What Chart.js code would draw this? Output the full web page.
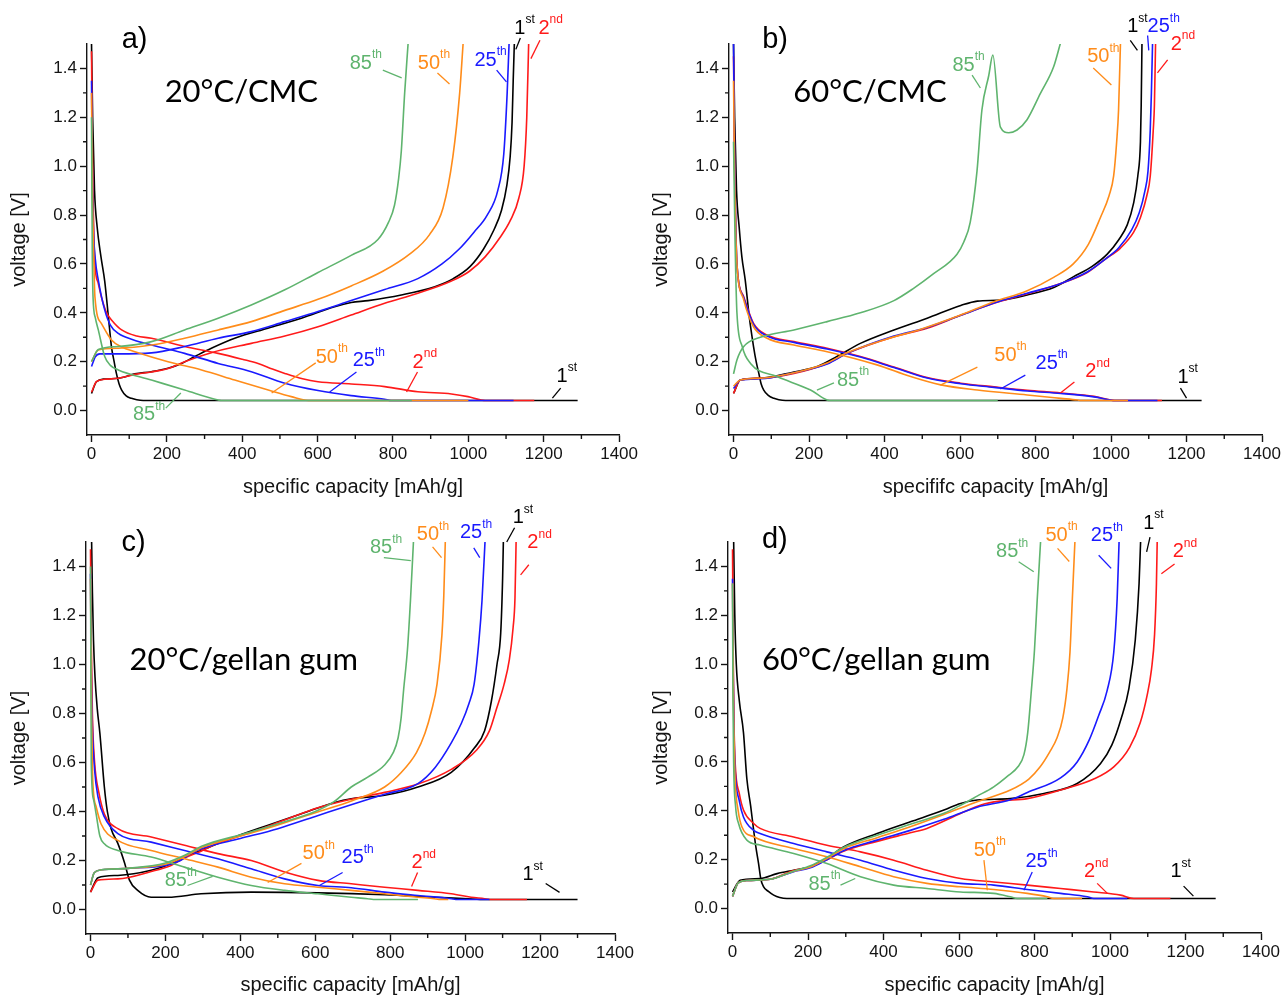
<!DOCTYPE html>
<html>
<head>
<meta charset="utf-8">
<script src="https://cdn.jsdelivr.net/npm/chart.js@4.4.1/dist/chart.umd.min.js"></script>
<style>
  body { margin: 0; background: #fff; width: 1284px; height: 998px; position: relative; overflow: hidden; }
  canvas { position: absolute; }
</style>
</head>
<body>
<canvas id="pa" width="640" height="500" style="left:0;top:0"></canvas>
<canvas id="pb" width="642" height="500" style="left:642px;top:0"></canvas>
<canvas id="pc" width="640" height="498" style="left:0;top:500px"></canvas>
<canvas id="pd" width="642" height="498" style="left:642px;top:500px"></canvas>
<script>
// cycles and their colours
const cycles = ["1st", "2nd", "25th", "50th", "85th"];
const cycleColors = ["#000000", "#ff1a1a", "#1a1aff", "#ff8c1a", "#5fb46e"];

const capacityTicks = [0, 200, 400, 600, 800, 1000, 1200, 1400];
const capacityMinor = [100, 300, 500, 700, 900, 1100, 1300];
const voltageTicks = [0, 0.2, 0.4, 0.6, 0.8, 1.0, 1.2, 1.4];
const voltageMinor = [0.1, 0.3, 0.5, 0.7, 0.9, 1.1, 1.3];

// a) 20°C/CMC  -- [capacity mAh/g, voltage V]
const aDis1st = [[0,1.5],[3,1.2],[8,0.9],[15,0.75],[25,0.63],[35,0.53],[45,0.38],[53,0.26],[60,0.2],[66,0.152],[73,0.11],[80,0.084],[92,0.06],[106,0.05],[120,0.044],[137,0.041],[1290,0.041]];
const aChg1st = [[0,0.07],[13,0.118],[35,0.129],[71,0.132],[115,0.15],[159,0.159],[203,0.173],[239,0.193],[274,0.221],[318,0.255],[380,0.296],[468,0.337],[557,0.378],[645,0.425],[689,0.442],[734,0.45],[822,0.473],[911,0.507],[960,0.54],[1005,0.59],[1040,0.66],[1068,0.74],[1088,0.82],[1102,0.92],[1111,1.04],[1116,1.18],[1119,1.35],[1122,1.5]];
const aDis2nd = [[0,1.47],[2,1.1],[5,0.8],[9,0.6],[18,0.52],[26,0.466],[40,0.4],[53,0.371],[80,0.33],[120,0.305],[159,0.296],[247,0.262],[336,0.234],[400,0.21],[442,0.193],[480,0.17],[513,0.152],[560,0.13],[601,0.118],[689,0.109],[778,0.098],[866,0.077],[955,0.068],[999,0.057],[1034,0.043],[1045,0.041],[1175,0.041]];
const aChg2nd = [[0,0.075],[13,0.118],[35,0.128],[71,0.132],[115,0.148],[159,0.158],[203,0.172],[247,0.2],[318,0.237],[424,0.275],[513,0.305],[601,0.343],[689,0.391],[778,0.439],[866,0.48],[955,0.53],[1003,0.57],[1045,0.63],[1085,0.71],[1112,0.78],[1134,0.87],[1148,1.0],[1155,1.2],[1160,1.5]];
const aDis25 = [[0,1.35],[2,1.0],[5,0.75],[10,0.62],[18,0.534],[35,0.412],[50,0.35],[71,0.316],[110,0.29],[159,0.268],[247,0.234],[336,0.193],[424,0.159],[513,0.112],[601,0.082],[689,0.061],[778,0.046],[795,0.041],[1120,0.041]];
const aChg25 = [[0,0.18],[10,0.22],[22,0.232],[71,0.232],[159,0.236],[247,0.262],[336,0.296],[424,0.323],[513,0.364],[601,0.405],[689,0.45],[778,0.495],[866,0.54],[930,0.6],[975,0.66],[1015,0.73],[1050,0.8],[1078,0.9],[1094,1.05],[1103,1.3],[1108,1.5]];
const aDis50 = [[0,1.3],[2,0.95],[5,0.7],[9,0.466],[26,0.357],[53,0.289],[80,0.26],[115,0.241],[203,0.2],[292,0.166],[380,0.125],[469,0.084],[530,0.057],[575,0.041],[1000,0.041]];
const aChg50 = [[0,0.2],[18,0.248],[71,0.255],[159,0.268],[247,0.296],[336,0.33],[424,0.364],[513,0.41],[601,0.455],[689,0.51],[773,0.57],[844,0.64],[897,0.72],[933,0.83],[959,1.04],[977,1.3],[986,1.5]];
const aDis85 = [[0,1.2],[1,0.9],[2,0.65],[4,0.466],[10,0.38],[18,0.33],[35,0.221],[50,0.185],[71,0.166],[159,0.125],[247,0.084],[336,0.043],[345,0.041],[850,0.041]];
const aChg85 = [[0,0.2],[18,0.25],[71,0.262],[159,0.282],[247,0.33],[336,0.378],[424,0.432],[513,0.494],[601,0.565],[689,0.635],[760,0.7],[788,0.77],[804,0.84],[815,0.95],[822,1.06],[831,1.3],[840,1.5]];

// b) 60°C/CMC
const bDis1st = [[0,1.5],[3,1.2],[8,0.9],[15,0.75],[22,0.63],[31,0.534],[42,0.38],[53,0.262],[60,0.2],[67,0.152],[73,0.11],[80,0.084],[92,0.062],[107,0.05],[120,0.044],[138,0.041],[1240,0.041]];
const bChg1st = [[0,0.07],[18,0.125],[71,0.132],[160,0.158],[222,0.18],[274,0.221],[336,0.275],[425,0.33],[513,0.378],[602,0.43],[646,0.448],[708,0.452],[778,0.473],[850,0.505],[901,0.548],[950,0.59],[990,0.64],[1021,0.7],[1043,0.76],[1060,0.85],[1071,0.96],[1078,1.1],[1080,1.25],[1082,1.5]];
const bDis2nd = [[0,1.45],[3,1.0],[6,0.75],[9,0.6],[27,0.466],[53,0.357],[89,0.309],[160,0.282],[248,0.255],[336,0.221],[425,0.178],[513,0.135],[602,0.112],[690,0.097],[778,0.083],[867,0.072],[955,0.058],[999,0.043],[1010,0.041],[1135,0.041]];
const bChg2nd = [[0,0.07],[18,0.125],[71,0.132],[160,0.152],[248,0.193],[301,0.234],[425,0.302],[513,0.337],[602,0.39],[690,0.439],[778,0.478],[867,0.52],[937,0.565],[985,0.62],[1025,0.665],[1060,0.73],[1078,0.79],[1095,0.88],[1104,0.96],[1112,1.15],[1115,1.25],[1118,1.5]];
const bDis25 = [[0,1.5],[3,1.0],[6,0.75],[9,0.6],[27,0.462],[53,0.353],[89,0.305],[160,0.279],[248,0.252],[336,0.219],[425,0.176],[513,0.133],[602,0.11],[690,0.095],[778,0.08],[867,0.07],[955,0.056],[999,0.043],[1010,0.041],[1123,0.041]];
const bChg25 = [[0,0.09],[18,0.125],[71,0.13],[160,0.155],[248,0.19],[301,0.234],[425,0.305],[513,0.34],[602,0.39],[690,0.44],[778,0.48],[867,0.52],[937,0.567],[985,0.62],[1020,0.665],[1055,0.74],[1075,0.81],[1090,0.9],[1098,0.98],[1104,1.15],[1107,1.3],[1110,1.5]];
const bDis50 = [[0,1.35],[3,0.95],[6,0.72],[9,0.6],[27,0.453],[53,0.343],[89,0.296],[160,0.268],[248,0.241],[380,0.187],[469,0.139],[549,0.105],[646,0.084],[778,0.064],[867,0.05],[911,0.043],[920,0.041],[1045,0.041]];
const bChg50 = [[0,0.1],[18,0.125],[71,0.132],[160,0.155],[248,0.195],[301,0.237],[400,0.29],[500,0.335],[600,0.39],[690,0.445],[778,0.49],[848,0.545],[900,0.6],[940,0.68],[972,0.79],[995,0.88],[1007,0.96],[1015,1.1],[1020,1.23],[1025,1.5]];
const bDis85 = [[0,1.1],[2,0.9],[4,0.7],[6,0.55],[9,0.4],[23,0.262],[45,0.193],[115,0.139],[204,0.084],[248,0.043],[255,0.041],[700,0.041]];
const bChg85 = [[0,0.15],[9,0.207],[27,0.262],[71,0.3],[160,0.33],[248,0.364],[336,0.4],[425,0.45],[477,0.5],[530,0.56],[592,0.64],[610,0.69],[627,0.77],[645,0.98],[658,1.23],[676,1.37],[687,1.455],[707,1.16],[729,1.137],[751,1.148],[777,1.189],[813,1.298],[848,1.407],[866,1.503]];

// c) 20°C/gellan gum
const cDis1st = [[3,1.5],[5,1.3],[8,1.1],[12,0.95],[18,0.82],[25,0.72],[37,0.5],[45,0.4],[55,0.33],[73,0.27],[91,0.19],[104,0.12],[126,0.078],[162,0.05],[207,0.05],[295,0.064],[429,0.071],[607,0.068],[785,0.06],[918,0.05],[1008,0.044],[1040,0.041],[1300,0.041]];
const cChg1st = [[0,0.071],[20,0.13],[73,0.139],[162,0.16],[215,0.187],[251,0.214],[295,0.241],[385,0.296],[474,0.344],[563,0.391],[652,0.437],[696,0.452],[785,0.466],[874,0.5],[963,0.56],[1025,0.66],[1052,0.73],[1070,0.85],[1085,1.0],[1095,1.13],[1100,1.35],[1102,1.5]];
const cDis2nd = [[0,1.47],[2,1.1],[5,0.8],[11,0.6],[22,0.48],[37,0.39],[73,0.33],[162,0.296],[251,0.262],[340,0.228],[429,0.2],[518,0.153],[607,0.119],[696,0.105],[785,0.091],[874,0.078],[963,0.064],[1016,0.05],[1052,0.044],[1065,0.041],[1165,0.041]];
const cChg2nd = [[0,0.071],[20,0.12],[73,0.125],[162,0.155],[215,0.18],[251,0.21],[295,0.238],[340,0.27],[429,0.315],[518,0.365],[607,0.415],[696,0.45],[785,0.478],[874,0.512],[963,0.572],[1030,0.65],[1065,0.73],[1084,0.82],[1104,0.92],[1118,1.02],[1128,1.15],[1133,1.27],[1136,1.5]];
const cDis25 = [[0,1.37],[2,1.0],[5,0.75],[11,0.57],[20,0.46],[37,0.378],[73,0.31],[162,0.275],[251,0.241],[340,0.207],[429,0.166],[518,0.125],[607,0.098],[696,0.089],[785,0.071],[874,0.057],[963,0.044],[975,0.041],[1065,0.041]];
const cChg25 = [[0,0.1],[10,0.15],[30,0.162],[100,0.168],[200,0.18],[240,0.2],[270,0.23],[300,0.25],[400,0.29],[500,0.33],[600,0.38],[700,0.43],[785,0.47],[874,0.514],[920,0.58],[963,0.68],[990,0.76],[1010,0.84],[1024,0.92],[1037,1.1],[1045,1.26],[1053,1.5]];
const cDis50 = [[0,1.35],[2,0.95],[4,0.7],[6,0.528],[15,0.42],[28,0.35],[73,0.282],[162,0.241],[251,0.207],[340,0.173],[429,0.132],[518,0.105],[607,0.091],[696,0.078],[785,0.064],[874,0.05],[918,0.044],[930,0.041],[955,0.041]];
const cChg50 = [[0,0.1],[10,0.15],[30,0.162],[100,0.168],[200,0.185],[250,0.215],[300,0.255],[400,0.3],[500,0.345],[600,0.395],[700,0.445],[785,0.5],[830,0.56],[870,0.64],[893,0.72],[910,0.81],[925,0.92],[938,1.12],[943,1.28],[947,1.5]];
const cDis85 = [[0,1.4],[1,1.0],[2,0.6],[8,0.45],[15,0.39],[25,0.3],[37,0.268],[73,0.241],[162,0.214],[251,0.173],[340,0.132],[429,0.098],[518,0.078],[607,0.064],[696,0.05],[740,0.044],[755,0.041],[874,0.041]];
const cChg85 = [[0,0.1],[10,0.15],[30,0.162],[100,0.168],[200,0.19],[250,0.22],[300,0.26],[400,0.305],[500,0.35],[600,0.4],[650,0.44],[696,0.5],[740,0.54],[785,0.59],[808,0.64],[821,0.7],[829,0.78],[836,0.9],[846,1.06],[854,1.26],[862,1.5]];

// d) 60°C/gellan gum
const dDis1st = [[3,1.5],[6,1.2],[10,1.0],[18,0.85],[29,0.72],[38,0.53],[48,0.42],[56,0.32],[62,0.25],[69,0.184],[75,0.12],[82,0.09],[95,0.07],[109,0.055],[125,0.045],[144,0.041],[1280,0.041]];
const dChg1st = [[0,0.068],[20,0.116],[73,0.123],[118,0.143],[162,0.157],[206,0.171],[250,0.205],[294,0.252],[383,0.307],[471,0.355],[560,0.403],[604,0.43],[648,0.444],[736,0.45],[825,0.471],[913,0.512],[975,0.594],[1005,0.67],[1030,0.78],[1050,0.9],[1067,1.1],[1077,1.33],[1081,1.5]];
const dDis2nd = [[0,1.47],[2,1.0],[4,0.75],[7,0.594],[18,0.47],[29,0.403],[56,0.348],[73,0.328],[162,0.293],[250,0.259],[339,0.232],[427,0.198],[515,0.157],[604,0.123],[692,0.109],[781,0.096],[869,0.082],[957,0.068],[1028,0.055],[1063,0.041],[1160,0.041]];
const dChg2nd = [[0,0.05],[15,0.105],[40,0.115],[100,0.12],[160,0.155],[206,0.17],[250,0.2],[294,0.235],[383,0.275],[471,0.31],[515,0.328],[604,0.389],[660,0.425],[710,0.44],[781,0.45],[869,0.485],[957,0.53],[1010,0.58],[1052,0.66],[1080,0.76],[1098,0.87],[1110,0.98],[1118,1.12],[1123,1.33],[1125,1.5]];
const dDis25 = [[0,1.35],[2,0.95],[4,0.72],[7,0.566],[18,0.44],[29,0.375],[56,0.32],[73,0.307],[162,0.266],[250,0.232],[339,0.198],[427,0.157],[515,0.123],[604,0.103],[692,0.096],[781,0.078],[869,0.062],[940,0.048],[957,0.041],[1046,0.041]];
const dChg25 = [[0,0.05],[15,0.105],[40,0.115],[100,0.12],[160,0.15],[206,0.167],[250,0.2],[294,0.237],[383,0.28],[471,0.32],[560,0.365],[648,0.415],[736,0.445],[781,0.475],[869,0.535],[913,0.6],[945,0.69],[970,0.79],[992,0.89],[1010,1.05],[1019,1.27],[1024,1.5]];
const dDis50 = [[0,1.33],[2,0.9],[4,0.7],[7,0.525],[15,0.4],[25,0.334],[56,0.294],[162,0.246],[250,0.212],[339,0.171],[427,0.13],[515,0.103],[604,0.089],[692,0.078],[781,0.062],[834,0.048],[851,0.041],[926,0.041]];
const dChg50 = [[0,0.05],[15,0.105],[40,0.115],[100,0.12],[160,0.152],[206,0.17],[250,0.205],[294,0.245],[383,0.29],[471,0.335],[560,0.385],[648,0.437],[736,0.485],[785,0.53],[815,0.58],[840,0.64],[860,0.7],[875,0.78],[886,0.9],[894,1.05],[900,1.26],[907,1.5]];
const dDis85 = [[0,1.33],[1,0.9],[3,0.594],[8,0.42],[16,0.348],[38,0.28],[73,0.26],[162,0.225],[250,0.184],[339,0.13],[427,0.096],[515,0.082],[604,0.068],[692,0.062],[736,0.048],[754,0.041],[834,0.041]];
const dChg85 = [[0,0.05],[15,0.105],[40,0.115],[100,0.12],[160,0.152],[206,0.175],[250,0.21],[294,0.25],[383,0.3],[471,0.345],[560,0.39],[604,0.423],[648,0.46],[692,0.498],[731,0.545],[756,0.58],[772,0.63],[782,0.72],[791,0.88],[800,1.06],[807,1.26],[816,1.5]];

// cycle labels: c = index into cycles, at = text position, line = leader line (data units)
const aLabels = [
  { c: 4, at: [685, 1.422], line: [773, 1.393, 823, 1.361] },
  { c: 3, at: [866, 1.422], line: [918, 1.381, 950, 1.336] },
  { c: 2, at: [1016, 1.434], line: [1075, 1.393, 1101, 1.345] },
  { c: 0, at: [1122, 1.565], line: [1138, 1.525, 1126, 1.478] },
  { c: 1, at: [1186, 1.565], line: [1190, 1.515, 1166, 1.44] },
  { c: 3, at: [595, 0.219], line: [595, 0.195, 478, 0.072] },
  { c: 2, at: [693, 0.206], line: [703, 0.158, 632, 0.076] },
  { c: 1, at: [852, 0.198], line: [865, 0.158, 836, 0.076] },
  { c: 0, at: [1234, 0.141], line: [1245, 0.092, 1223, 0.051] },
  { c: 4, at: [110, -0.018], line: [197, 0.01, 237, 0.072] }
];
const bLabels = [
  { c: 4, at: [580, 1.414], line: [632, 1.373, 654, 1.32] },
  { c: 3, at: [937, 1.449], line: [953, 1.402, 1001, 1.332] },
  { c: 0, at: [1043, 1.57], line: [1051, 1.515, 1070, 1.474] },
  { c: 2, at: [1097, 1.57], line: [1097, 1.535, 1100, 1.474] },
  { c: 1, at: [1158, 1.5], line: [1150, 1.435, 1123, 1.382] },
  { c: 3, at: [691, 0.227], line: [646, 0.178, 548, 0.104] },
  { c: 2, at: [800, 0.194], line: [773, 0.145, 707, 0.088] },
  { c: 1, at: [932, 0.158], line: [903, 0.117, 866, 0.072] },
  { c: 0, at: [1176, 0.137], line: [1184, 0.092, 1200, 0.051] },
  { c: 4, at: [274, 0.125], line: [221, 0.084, 266, 0.113] }
];
const cLabels = [
  { c: 4, at: [746, 1.476], line: [783, 1.436, 855, 1.424] },
  { c: 3, at: [871, 1.53], line: [913, 1.48, 937, 1.436] },
  { c: 2, at: [986, 1.54], line: [1023, 1.476, 1039, 1.436] },
  { c: 0, at: [1127, 1.6], line: [1132, 1.558, 1111, 1.5] },
  { c: 1, at: [1166, 1.497], line: [1170, 1.407, 1148, 1.366] },
  { c: 3, at: [566, 0.229], line: [563, 0.188, 473, 0.11] },
  { c: 2, at: [670, 0.213], line: [673, 0.151, 611, 0.098] },
  { c: 1, at: [857, 0.192], line: [873, 0.151, 857, 0.094] },
  { c: 0, at: [1153, 0.143], line: [1215, 0.106, 1252, 0.07] },
  { c: 4, at: [198, 0.119], line: [259, 0.098, 326, 0.135] }
];
const dLabels = [
  { c: 4, at: [698, 1.46], line: [758, 1.419, 798, 1.378] },
  { c: 3, at: [829, 1.528], line: [861, 1.474, 892, 1.42] },
  { c: 2, at: [949, 1.525], line: [970, 1.446, 1003, 1.392] },
  { c: 0, at: [1088, 1.577], line: [1106, 1.52, 1097, 1.46] },
  { c: 1, at: [1166, 1.46], line: [1171, 1.41, 1136, 1.37] },
  { c: 3, at: [639, 0.239], line: [666, 0.198, 675, 0.075] },
  { c: 2, at: [776, 0.192], line: [794, 0.15, 772, 0.075] },
  { c: 1, at: [931, 0.15], line: [966, 0.103, 993, 0.062] },
  { c: 0, at: [1160, 0.15], line: [1195, 0.092, 1221, 0.051] },
  { c: 4, at: [201, 0.1], line: [286, 0.096, 325, 0.123] }
];

const FONT = '"Liberation Sans", Arial, sans-serif';
const INK = "#141414";

const panels = [
  { id: "pa", letter: "a)", letterAt: [80, 1.517], cond: "20°C/CMC", condAt: [194, 1.304],
    xTitle: "specific capacity [mAh/g]",
    dis: [aDis1st, aDis2nd, aDis25, aDis50, aDis85], chg: [aChg1st, aChg2nd, aChg25, aChg50, aChg85],
    labels: aLabels, yw: 87, xh: 65, pt: 44, pr: 20 },
  { id: "pb", letter: "b)", letterAt: [76, 1.517], cond: "60°C/CMC", condAt: [158, 1.304],
    xTitle: "specififc capacity [mAh/g]",
    dis: [bDis1st, bDis2nd, bDis25, bDis50, bDis85], chg: [bChg1st, bChg2nd, bChg25, bChg50, bChg85],
    labels: bLabels, yw: 87, xh: 65, pt: 44, pr: 22 },
  { id: "pc", letter: "c)", letterAt: [83, 1.497], cond: "20°C/gellan gum", condAt: [104, 1.018],
    xTitle: "specific capacity [mAh/g]",
    dis: [cDis1st, cDis2nd, cDis25, cDis50, cDis85], chg: [cChg1st, cChg2nd, cChg25, cChg50, cChg85],
    labels: cLabels, yw: 86, xh: 64, pt: 42, pr: 25 },
  { id: "pd", letter: "d)", letterAt: [78, 1.508], cond: "60°C/gellan gum", condAt: [78, 1.017],
    xTitle: "specific capacity [mAh/g]",
    dis: [dDis1st, dDis2nd, dDis25, dDis50, dDis85], chg: [dChg1st, dChg2nd, dChg25, dChg50, dChg85],
    labels: dLabels, yw: 86, xh: 65, pt: 42, pr: 23 }
];

// minor ticks, panel texts and cycle labels
const extrasPlugin = {
  id: "extras",
  afterDraw(chart, args, opts) {
    const { ctx, chartArea } = chart;
    const x = chart.scales.x, y = chart.scales.y;
    const p = opts.panel;
    ctx.save();
    ctx.strokeStyle = INK;
    ctx.lineWidth = 1.4;
    ctx.beginPath();
    capacityMinor.forEach(v => {
      const px = x.getPixelForValue(v);
      ctx.moveTo(px, chartArea.bottom);
      ctx.lineTo(px, chartArea.bottom + 4);
    });
    voltageMinor.forEach(v => {
      const py = y.getPixelForValue(v);
      ctx.moveTo(chartArea.left, py);
      ctx.lineTo(chartArea.left - 4, py);
    });
    ctx.stroke();

    ctx.textBaseline = "middle";
    ctx.textAlign = "left";
    ctx.fillStyle = "#000";
    ctx.font = "29px " + FONT;
    ctx.fillText(p.letter, x.getPixelForValue(p.letterAt[0]), y.getPixelForValue(p.letterAt[1]));
    ctx.font = '31px Lato, "Open Sans", sans-serif';
    ctx.fillText(p.cond, x.getPixelForValue(p.condAt[0]), y.getPixelForValue(p.condAt[1]));

    p.labels.forEach(l => {
      const col = cycleColors[l.c];
      ctx.strokeStyle = col;
      ctx.lineWidth = 1.3;
      ctx.beginPath();
      ctx.moveTo(x.getPixelForValue(l.line[0]), y.getPixelForValue(l.line[1]));
      ctx.lineTo(x.getPixelForValue(l.line[2]), y.getPixelForValue(l.line[3]));
      ctx.stroke();
      const m = cycles[l.c].match(/^(\d+)(\D+)$/);
      const px = x.getPixelForValue(l.at[0]), py = y.getPixelForValue(l.at[1]);
      ctx.fillStyle = col;
      ctx.font = "20px " + FONT;
      ctx.fillText(m[1], px, py);
      const w = ctx.measureText(m[1]).width;
      ctx.font = "12px " + FONT;
      ctx.fillText(m[2], px + w, py - 8);
    });
    ctx.restore();
  }
};

function makeDatasets(p) {
  const sets = [];
  cycles.forEach((name, i) => {
    [["discharge", p.dis[i]], ["charge", p.chg[i]]].forEach(([kind, pts]) => {
      sets.push({
        label: name + " " + kind,
        data: pts.map(([x, y]) => ({ x, y })),
        borderColor: cycleColors[i],
        borderWidth: 1.6,
        pointRadius: 0,
        showLine: true,
        fill: false,
        cubicInterpolationMode: "monotone",
        order: cycles.length - 1 - i
      });
    });
  });
  return sets;
}

panels.forEach(p => {
  new Chart(document.getElementById(p.id), {
    type: "scatter",
    data: { datasets: makeDatasets(p) },
    options: {
      responsive: false,
      animation: false,
      layout: { padding: { left: 0, top: p.pt, right: p.pr, bottom: 0 } },
      plugins: {
        legend: { display: false },
        tooltip: { enabled: false },
        extras: { panel: p }
      },
      scales: {
        x: {
          type: "linear", min: -12, max: 1400,
          afterBuildTicks: s => { s.ticks = capacityTicks.map(v => ({ value: v })); },
          afterFit: s => { s.height = p.xh; },
          ticks: { font: { family: FONT, size: 17 }, color: INK, padding: 2, maxRotation: 0, autoSkip: false,
                   callback: v => String(v) },
          grid: { drawOnChartArea: false, tickLength: 7, color: INK, tickWidth: 1.4 },
          border: { color: INK, width: 1.4 },
          title: { display: true, text: p.xTitle, color: INK, font: { family: FONT, size: 20 },
                   padding: { top: 0, bottom: 1 } }
        },
        y: {
          type: "linear", min: -0.1, max: 1.5,
          afterBuildTicks: s => { s.ticks = voltageTicks.map(v => ({ value: v })); },
          afterFit: s => { s.width = p.yw; },
          ticks: { font: { family: FONT, size: 17 }, color: INK, padding: 3, autoSkip: false,
                   callback: v => v.toFixed(1) },
          grid: { drawOnChartArea: false, tickLength: 7, color: INK, tickWidth: 1.4 },
          border: { color: INK, width: 1.4 },
          title: { display: true, text: "voltage [V]", color: INK, font: { family: FONT, size: 20 },
                   padding: { top: 7, bottom: 0 } }
        }
      }
    },
    plugins: [extrasPlugin]
  });
});
</script>
</body>
</html>
